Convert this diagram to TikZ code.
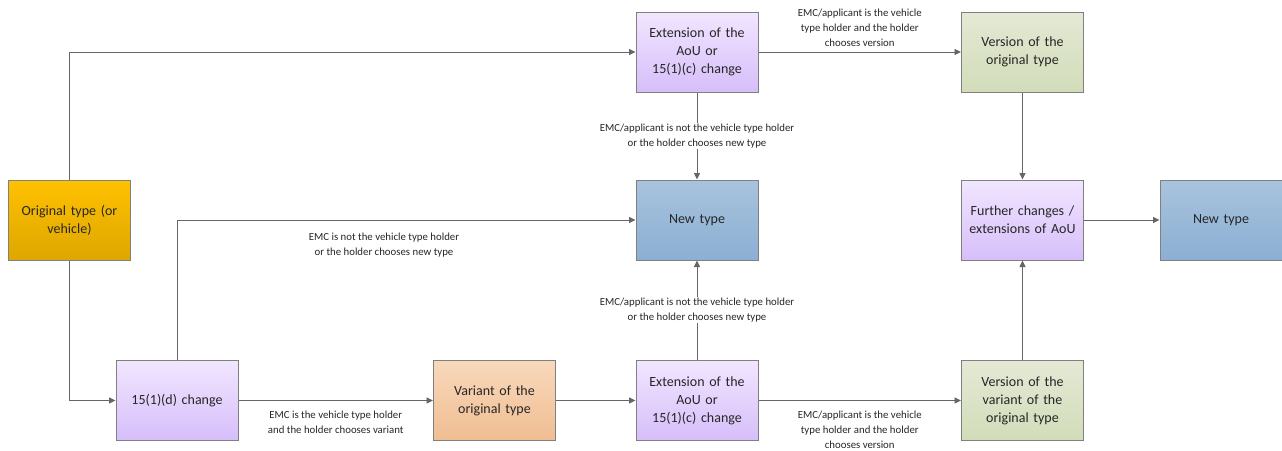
\documentclass[tikz,border=0pt]{standalone}
\usepackage{fontspec}
\setmainfont{Carlito}
\usetikzlibrary{arrows.meta}
\definecolor{mauveH}{RGB}{241,230,255}
\definecolor{mauveB}{RGB}{214,190,250}
\definecolor{bleuH}{RGB}{168,195,221}
\definecolor{bleuB}{RGB}{140,175,211}
\definecolor{vertH}{RGB}{228,233,213}
\definecolor{vertB}{RGB}{210,220,185}
\definecolor{peauH}{RGB}{248,216,188}
\definecolor{peauB}{RGB}{240,190,146}
\definecolor{orH}{RGB}{255,193,0}
\definecolor{orB}{RGB}{222,166,0}

\begin{document}
\begin{tikzpicture}[x=1pt,y=-1pt,
    box/.style={draw=black!50,line width=1pt,minimum width=122pt,minimum height=80pt,
      inner sep=2pt,text width=116pt,align=center,font=\fontsize{14}{18}\selectfont,text=black!85},
    mauve/.style={box,top color=mauveH,bottom color=mauveB},
    bleu/.style={box,top color=bleuH,bottom color=bleuB},
    vert/.style={box,top color=vertH,bottom color=vertB},
    peau/.style={box,top color=peauH,bottom color=peauB},
    or/.style={box,top color=orH,bottom color=orB},
    fleche/.style={draw=black!60,line width=0.9pt,-{Triangle[length=6.5pt,width=6pt]}},
    cond/.style={font=\fontsize{10.8}{15}\selectfont,align=center,text=black!85,inner sep=1pt}]
  \useasboundingbox (0,0) rectangle (1282,450);
  %boites
  \node[or] (O) at (69.5,220) {Original type (or\\ vehicle)};
  \node[mauve] (E1) at (697,52) {Extension of the\\ AoU or\\ 15(1)(c) change};
  \node[vert] (V1) at (1022.5,52) {Version of the\\ original type};
  \node[bleu] (N1) at (697,220) {New type};
  \node[mauve] (F) at (1022.5,220) {Further changes /\\ extensions of AoU};
  \node[bleu] (N2) at (1221,220) {New type};
  \node[mauve] (D) at (177,400.5) {15(1)(d) change};
  \node[peau] (VA) at (494.5,400.5) {Variant of the\\ original type};
  \node[mauve] (E2) at (697,400.5) {Extension of the\\ AoU or\\ 15(1)(c) change};
  \node[vert] (V2) at (1022.5,400.5) {Version of the\\ variant of the\\ original type};
  %fleches
  \draw[fleche] (O.north) |- (E1.west);
  \draw[fleche] (O.south) |- (D.west);
  \draw[fleche] (D.north) |- (N1.west);
  \node[cond] at (384,245) {EMC is not the vehicle type holder\\ or the holder chooses new type};
  \draw[fleche] (D) --node[cond,below=9pt] {EMC is the vehicle type holder\\ and the holder chooses variant} (VA);
  \draw[fleche] (VA) -- (E2);
  \draw[fleche] (E2) --node[cond,fill=white] {EMC/applicant is not the vehicle type holder\\ or the holder chooses new type} (N1);
  \draw[fleche] (E1) --node[cond,fill=white] {EMC/applicant is not the vehicle type holder\\ or the holder chooses new type} (N1);
  \draw[fleche] (E1) --node[cond,above=4pt] {EMC/applicant is the vehicle\\ type holder and the holder\\ chooses version} (V1);
  \draw[fleche] (E2) --node[cond,below=9pt] {EMC/applicant is the vehicle\\ type holder and the holder\\ chooses version} (V2);
  \draw[fleche] (V1) -- (F);
  \draw[fleche] (V2) -- (F);
  \draw[fleche] (F) -- (N2);
\end{tikzpicture}
\end{document}
